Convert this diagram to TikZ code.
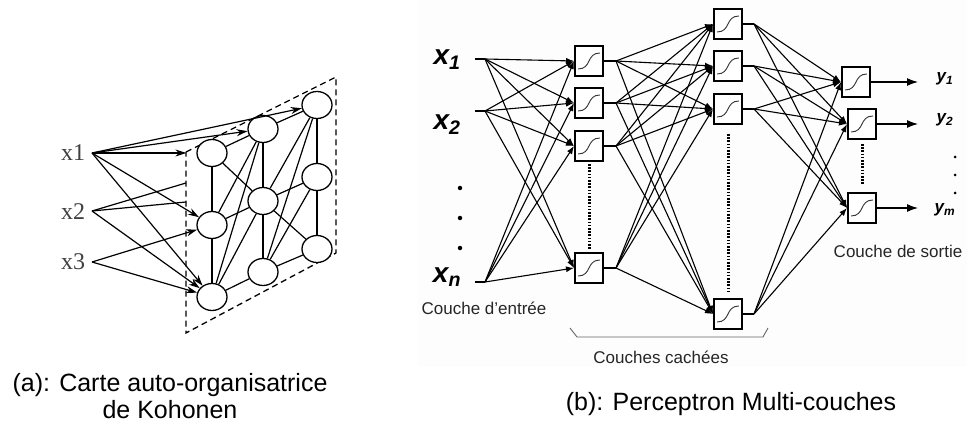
\documentclass[tikz,border=0pt]{standalone}
\usepackage{fontspec}
\setmainfont{Liberation Sans}
\newfontfamily\kohfont{Liberation Serif}
\usetikzlibrary{arrows.meta,positioning,shapes.geometric}

\tikzset{
  neuron/.style={draw, ellipse, line width=1.3pt, fill=white, minimum width=30pt, minimum height=27pt, inner sep=0pt},
  link/.style={line width=1.2pt},
  karrow/.style={line width=1.2pt, -{Stealth[length=11pt,width=7pt]}},
  xlab/.style={text=black!75, font=\kohfont\fontsize{24}{24}\selectfont, inner sep=0pt},
  sigbox/.style={draw, line width=2pt, fill=white, minimum width=28pt, minimum height=30pt, inner sep=0pt,
    path picture={\draw[line width=0.9pt, black!80]
      ([shift={(3pt,7pt)}]path picture bounding box.south west)
      .. controls ([shift={(17pt,7pt)}]path picture bounding box.south west)
      and ([shift={(-17pt,-7pt)}]path picture bounding box.north east)
      .. ([shift={(-3pt,-7pt)}]path picture bounding box.north east);}},
  fan/.style={line width=1.1pt, -{Latex[length=8pt,width=6pt]}},
  stub/.style={line width=1.1pt},
  dotline/.style={line width=3pt, dash pattern=on 1.6pt off 1.6pt},
  inlab/.style={font=\fontsize{28}{28}\selectfont\bfseries\itshape, inner sep=0pt},
  outlab/.style={font=\fontsize{17}{17}\selectfont\bfseries\itshape, inner sep=0pt},
  layerlab/.style={text=black!85, font=\fontsize{17}{17}\selectfont, inner sep=0pt},
  caption/.style={font=\fontsize{25}{27}\selectfont, align=center, inner sep=0pt},
  bigdot/.style={circle, fill=black, inner sep=0pt, minimum size=4.5pt}
}

\begin{document}
\begin{tikzpicture}[x=1pt, y=-1pt]
  \useasboundingbox (0,0) rectangle (967,425);
  \fill[black!0.7] (418,0) rectangle (967,367);

  % ---------------- (a) Kohonen map ----------------
  % dashed plane of the map
  \draw[line width=1.3pt, dash pattern=on 6pt off 4pt] (186,152) -- (336,77) -- (336,253) -- (186,333) -- cycle;

  % neurons, column by column
  \foreach \c/\x/\ya/\yb/\yc in {1/212/153/225/297, 2/263/129/201/272, 3/317/105/177/249}{
    \node[neuron] (n\c1) at (\x,\ya) {};
    \node[neuron] (n\c2) at (\x,\yb) {};
    \node[neuron] (n\c3) at (\x,\yc) {};
  }

  % links of the grid
  \foreach \a/\b in {n11/n12, n12/n13, n21/n22, n22/n23, n31/n32, n32/n33,
                     n11/n21, n21/n31, n12/n22, n22/n32, n13/n23, n23/n33,
                     n11/n22, n22/n33, n12/n21, n13/n22, n13/n21,
                     n22/n31, n23/n32, n23/n31}
    \draw[link] (\a) -- (\b);

  % inputs
  \node[xlab] (kx1) at (73,153) {x1};
  \node[xlab] (kx2) at (73,212) {x2};
  \node[xlab] (kx3) at (73,262) {x3};
  \coordinate (k1) at (92,153);
  \coordinate (k2) at (92,211);
  \coordinate (k3) at (92,262);
  \coordinate (hid1) at (186,183);
  \coordinate (hid2) at (186,202);

  \draw[karrow, shorten >=10pt] (k1) -- (n11);
  \foreach \t in {n21, n31, n12, n13}
    \draw[karrow] (k1) -- (\t);
  \draw[link] (k2) -- (hid1);
  \draw[link] (k2) -- (hid2);
  \draw[karrow] (k2) -- (n13);
  \draw[karrow] (k3) -- (n12);
  \draw[karrow] (k3) -- (n13);

  \node[caption] (capa) at (170,396) {(a): Carte auto-organisatrice\\de Kohonen};

  % ---------------- (b) Multilayer perceptron ----------------
  % layers
  \foreach \i/\y in {a/61, b/103, c/146, d/268}
    \node[sigbox] (h\i) at (589,\y) {};
  \foreach \i/\y in {a/24, b/66, c/109, d/314}
    \node[sigbox] (g\i) at (728,\y) {};
  \node[sigbox] (oa) at (856,82) {};
  \node[sigbox] (ob) at (862,124) {};
  \node[sigbox] (oc) at (862,208) {};

  % inputs
  \node[inlab] (x1) at (447,60) {x\textsubscript{1}};
  \node[inlab] (x2) at (447,125) {x\textsubscript{2}};
  \node[inlab] (xn) at (447,277) {x\textsubscript{n}};
  \node[bigdot] (dt1) at (460,188) {};
  \node[bigdot] (dt2) at (460,218) {};
  \node[bigdot] (dt3) at (460,248) {};

  \foreach \s/\y in {1/59, 2/111, n/282}{
    \coordinate (s\s) at (475,\y);
    \coordinate (f\s) at (485,\y);
    \draw[stub] (s\s) -- (f\s);
    \foreach \t in {ha, hb, hc, hd}
      \draw[fan] (f\s) -- (\t.west);
  }

  % hidden layer 1 -> hidden layer 2
  \foreach \i in {a, b, c, d}
    \draw[stub] (h\i.east) -- ++(12,0) coordinate (p\i);
  \foreach \s in {pa, pb, pc, pd}
    \foreach \t in {ga, gb, gc, gd}
      \draw[fan] (\s) -- (\t.west);

  % hidden layer 2 -> output layer
  \foreach \i in {a, b, c, d}
    \draw[stub] (g\i.east) -- ++(11,0) coordinate (q\i);
  \foreach \s in {qa, qb, qc, qd}
    \foreach \t in {oa, ob, oc}
      \draw[fan] (\s) -- (\t.west);

  % dotted continuation of each layer
  \draw[dotline, shorten <=2pt, shorten >=2pt] (hc.south) -- (hd.north);
  \draw[dotline, shorten <=9pt, shorten >=7pt] (gc.south) -- (gd.north);
  \draw[dotline, shorten <=4pt, shorten >=8pt] (ob.south) -- (oc.north);

  % outputs
  \coordinate (ea) at (918,82);
  \coordinate (eb) at (918,124);
  \coordinate (ec) at (918,208);
  \draw[line width=1.1pt, -{Latex[length=11pt,width=8pt]}] (oa.east) -- (ea);
  \draw[line width=1.1pt, -{Latex[length=11pt,width=8pt]}] (ob.east) -- (eb);
  \draw[line width=1.1pt, -{Latex[length=11pt,width=8pt]}] (oc.east) -- (ec);
  \node[outlab] (y1) at (945,79) {y\textsubscript{1}};
  \node[outlab] (y2) at (945,120) {y\textsubscript{2}};
  \node[outlab] (ym) at (945,210) {y\textsubscript{m}};
  \node[bigdot, minimum size=3pt] (yd1) at (955,157) {};
  \node[bigdot, minimum size=3pt] (yd2) at (955,175) {};
  \node[bigdot, minimum size=3pt] (yd3) at (955,193) {};

  % layer names
  \node[layerlab] (lin) at (484,308) {Couche d'entrée};
  \node[layerlab] (lout) at (898,251) {Couche de sortie};
  \coordinate (brA) at (570,328);
  \coordinate (brB) at (577,337);
  \coordinate (brC) at (763,337);
  \coordinate (brD) at (768,328);
  \draw[black!60, line width=0.9pt] (brA) -- (brB) -- (brC) -- (brD);
  \node[layerlab] (lhid) at (661,357) {Couches cachées};

  \node[caption] (capb) at (731,404) {(b): Perceptron Multi-couches};
\end{tikzpicture}
\end{document}
